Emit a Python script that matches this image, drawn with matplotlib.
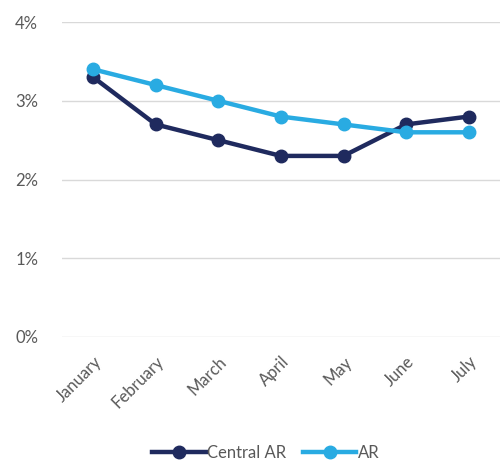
import matplotlib.pyplot as plt
from matplotlib.ticker import FuncFormatter

months = ['January', 'February', 'March', 'April', 'May', 'June', 'July']
central_ar = [3.3, 2.7, 2.5, 2.3, 2.3, 2.7, 2.8]
ar = [3.4, 3.2, 3.0, 2.8, 2.7, 2.6, 2.6]

plt.rcParams['font.family'] = ['Lato', 'DejaVu Sans']

fig = plt.figure(figsize=(5.03, 4.62), dpi=100)
ax = fig.add_axes([0.123, 0.2706, 0.871, 0.6816])

x = list(range(len(months)))
ax.plot(x, central_ar, color='#1F2A5E', lw=3.2, marker='o', ms=9, label='Central AR', zorder=3)
ax.plot(x, ar, color='#29ABE2', lw=3.2, marker='o', ms=9, label='AR', zorder=3)

ax.set_xlim(-0.5, 6.5)
ax.set_ylim(0, 4)
ax.set_yticks([0, 1, 2, 3, 4])
ax.yaxis.set_major_formatter(FuncFormatter(lambda v, p: f'{v:.0f}%'))
ax.set_xticks(x)
ax.set_xticklabels(months, rotation=45, ha='right', rotation_mode='anchor')
ax.tick_params(axis='both', length=0, labelsize=12, labelcolor='#595959')
ax.tick_params(axis='y', pad=17)
ax.tick_params(axis='x', pad=12)
ax.grid(axis='y', color='#D9D9D9', lw=1)
ax.set_axisbelow(True)
for s in ax.spines.values():
    s.set_visible(False)

leg = ax.legend(loc='center', bbox_to_anchor=(0.466, -0.368), ncol=2, frameon=False,
                fontsize=12, handlelength=3.2, columnspacing=1.0, handletextpad=0.1,
                bbox_transform=ax.transAxes)
for t in leg.get_texts():
    t.set_color('#595959')

fig.savefig('out.png', dpi=100)
